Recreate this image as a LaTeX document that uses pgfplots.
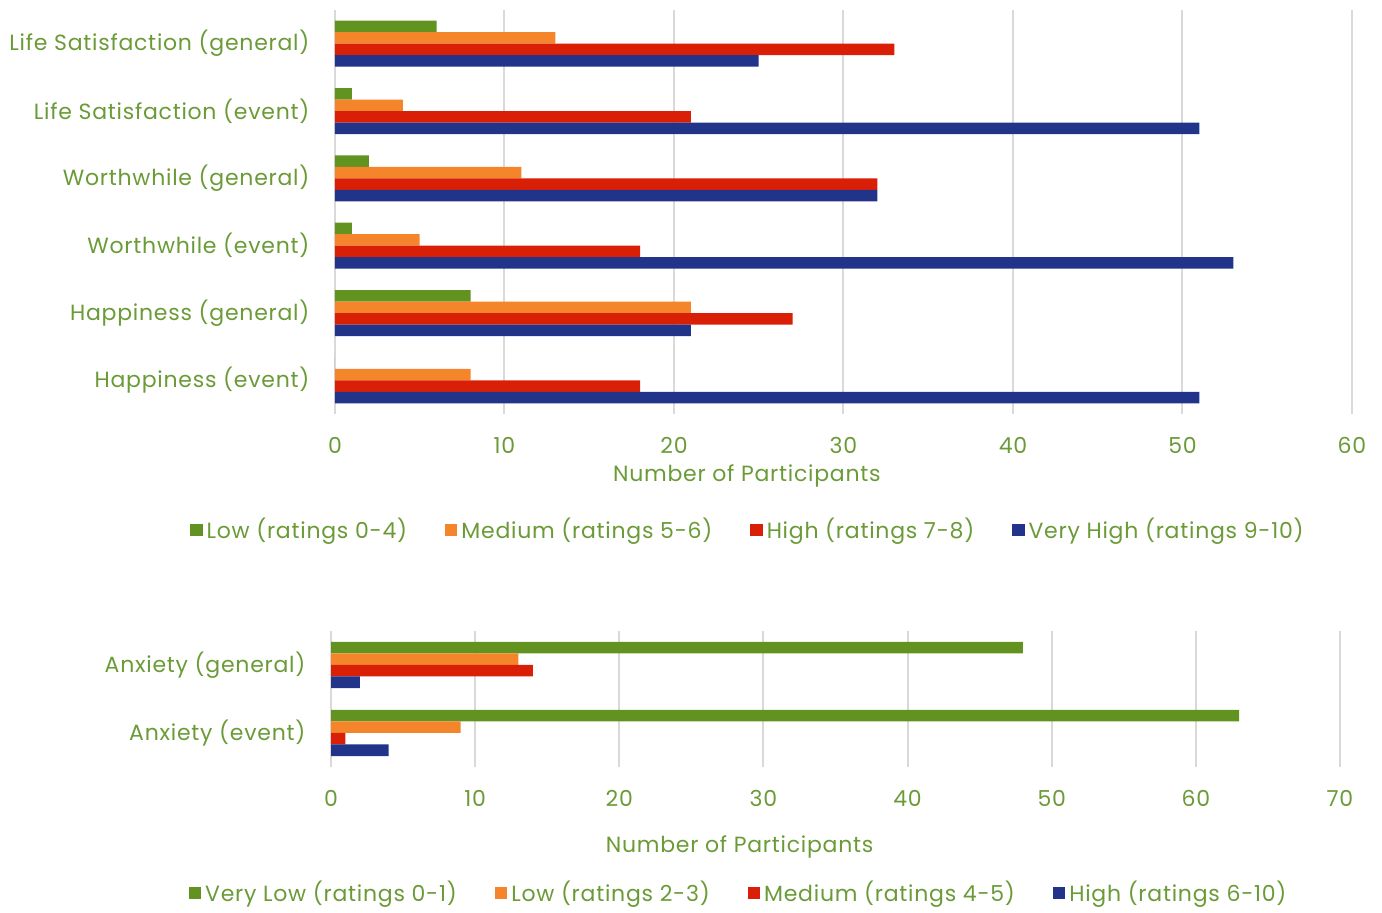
\documentclass[border=0pt]{standalone}
\usepackage{pgfplots}
\pgfplotsset{compat=1.18}
\usepackage{fontspec}
\setmainfont[LetterSpace=3.4]{Poppins}
\definecolor{txtgreen}{HTML}{6B9B37}
\definecolor{cLow}{HTML}{62921F}
\definecolor{cMed}{HTML}{F5852A}
\definecolor{cHigh}{HTML}{D92007}
\definecolor{cVHigh}{HTML}{22338A}
\definecolor{gridgray}{HTML}{D9D9D9}

\pgfplotsset{
  surveybars/.style={
    scale only axis,
    xbar, bar width=5.75pt,
    axis line style={draw=none},
    xmajorgrids, grid style={gridgray, line width=1pt},
    ymajorgrids=false,
    tick style={draw=none},
    ytick=data,
    font=\fontsize{11pt}{13pt}\selectfont,
    every tick label/.style={text=txtgreen},
    label style={text=txtgreen},
    /pgf/number format/assume math mode=true,
    yticklabel style={xshift=-5pt},
    xticklabel style={yshift=-8pt},
    legend columns=4,
    legend style={draw=none, text=txtgreen, font=\fontsize{11pt}{13pt}\selectfont,
      /tikz/every even column/.append style={column sep=17pt}},
    legend image code/.code={\fill[#1] (0pt,-3.1pt) rectangle (6.2pt,3.1pt);},
  },
}

\begin{document}
\begin{tikzpicture}
\path (0pt,0pt) rectangle (691pt,453.5pt);

% Wellbeing measures
\begin{axis}[surveybars,
  at={(167.5pt,246.5pt)}, anchor=south west,
  width=508.5pt, height=202pt,
  xmin=0, xmax=60, xtick={0,10,...,60},
  ymin=-0.5, ymax=5.5,
  yticklabels={Happiness (event),Happiness (general),Worthwhile (event),Worthwhile (general),Life Satisfaction (event),Life Satisfaction (general)},
  xlabel={Number of Participants},
  xlabel style={at={(axis description cs:0.405,-0.153)}, anchor=center},
  legend style={at={(0.407,-0.287)}, anchor=center},
]
\addplot[fill=cLow, draw=none, bar shift=8.625pt] coordinates {(0,0) (8,1) (1,2) (2,3) (1,4) (6,5)};
\addplot[fill=cMed, draw=none, bar shift=2.875pt] coordinates {(8,0) (21,1) (5,2) (11,3) (4,4) (13,5)};
\addplot[fill=cHigh, draw=none, bar shift=-2.875pt] coordinates {(18,0) (27,1) (18,2) (32,3) (21,4) (33,5)};
\addplot[fill=cVHigh, draw=none, bar shift=-8.625pt] coordinates {(51,0) (21,1) (53,2) (32,3) (51,4) (25,5)};
\legend{Low (ratings 0-4),Medium (ratings 5-6),High (ratings 7-8),Very High (ratings 9-10)}
\end{axis}

% Anxiety measures
\begin{axis}[surveybars,
  at={(165.5pt,70pt)}, anchor=south west,
  width=504.5pt, height=68pt,
  xmin=0, xmax=70, xtick={0,10,...,70},
  ymin=-0.5, ymax=1.5,
  yticklabels={Anxiety (event),Anxiety (general)},
  xlabel={Number of Participants},
  xlabel style={at={(axis description cs:0.405,-0.588)}, anchor=center},
  legend style={at={(0.405,-0.926)}, anchor=center},
]
\addplot[fill=cLow, draw=none, bar shift=8.625pt] coordinates {(63,0) (48,1)};
\addplot[fill=cMed, draw=none, bar shift=2.875pt] coordinates {(9,0) (13,1)};
\addplot[fill=cHigh, draw=none, bar shift=-2.875pt] coordinates {(1,0) (14,1)};
\addplot[fill=cVHigh, draw=none, bar shift=-8.625pt] coordinates {(4,0) (2,1)};
\legend{Very Low (ratings 0-1),Low (ratings 2-3),Medium (ratings 4-5),High (ratings 6-10)}
\end{axis}
\end{tikzpicture}
\end{document}
